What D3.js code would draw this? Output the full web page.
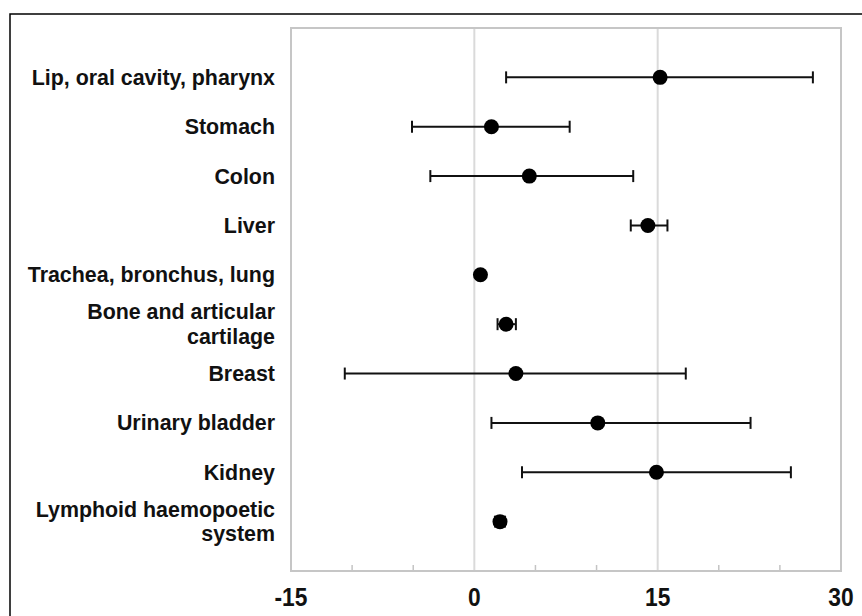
<!DOCTYPE html>
<html>
<head>
<meta charset="utf-8">
<script src="https://cdn.jsdelivr.net/npm/d3@7"></script>
<style>
  body { margin: 0; background: #fff; }
  svg { display: block; font-family: "Liberation Sans", Arial, sans-serif; }
</style>
</head>
<body>
<svg id="chart" width="862" height="616"></svg>
<script>
// categories (multi-line labels split with "|")
const categories = [
    'Lip, oral cavity, pharynx',
    'Stomach',
    'Colon',
    'Liver',
    'Trachea, bronchus, lung',
    'Bone and articular|cartilage',
    'Breast',
    'Urinary bladder',
    'Kidney',
    'Lymphoid haemopoetic|system'
];
const estimates = [15.2, 1.4, 4.5, 14.2, 0.5, 2.6, 3.4, 10.1, 14.9, 2.1];
const lowerCI   = [2.6, -5.1, -3.6, 12.8, 0.4, 1.9, -10.6, 1.4, 3.9, 1.7];
const upperCI   = [27.7, 7.8, 13.0, 15.8, 0.6, 3.4, 17.3, 22.6, 25.9, 2.5];
const xTicks = [-15, 0, 15, 30];
const minorTicks = [-10, -5, 5, 10, 20, 25];
const gridValues = [0, 15];

const rows = categories.map((c, i) => ({
    label: c, est: estimates[i], lo: lowerCI[i], hi: upperCI[i]
}));

const svg = d3.select('#chart');
const plot = { left: 291, right: 841, top: 28, bottom: 571 };

const x = d3.scaleLinear().domain([-15, 30]).range([plot.left, plot.right]);
const y = d3.scalePoint().domain(categories).range([plot.top, plot.bottom]).padding(1);

// outer frame (cropped on right and bottom)
svg.append('path')
    .attr('d', `M10,${616 + 5}V14H${862 + 5}`)
    .attr('fill', 'none')
    .attr('stroke', '#000')
    .attr('stroke-width', 1.5);

// grid lines
svg.append('g')
    .selectAll('line')
    .data(gridValues)
    .enter()
    .append('line')
    .attr('x1', d => x(d)).attr('x2', d => x(d))
    .attr('y1', plot.top).attr('y2', plot.bottom)
    .attr('stroke', '#dadada')
    .attr('stroke-width', 2);

// minor ticks on the bottom axis
svg.append('g')
    .selectAll('line')
    .data(minorTicks)
    .enter()
    .append('line')
    .attr('x1', d => x(d)).attr('x2', d => x(d))
    .attr('y1', plot.bottom - 6).attr('y2', plot.bottom)
    .attr('stroke', '#c4c4c4')
    .attr('stroke-width', 1.5);

// plot frame
svg.append('rect')
    .attr('x', plot.left)
    .attr('y', plot.top)
    .attr('width', plot.right - plot.left)
    .attr('height', plot.bottom - plot.top)
    .attr('fill', 'none')
    .attr('stroke', '#c6c6c6')
    .attr('stroke-width', 2);

// x tick labels
svg.append('g')
    .selectAll('text')
    .data(xTicks)
    .enter()
    .append('text')
    .attr('transform', d => `translate(${x(d)},606) scale(0.95,1.08)`)
    .attr('text-anchor', 'middle')
    .attr('font-size', '24px')
    .attr('font-weight', 'bold')
    .attr('fill', '#111')
    .text(d => d);

// category labels
const labels = svg.append('g')
    .selectAll('text')
    .data(rows)
    .enter()
    .append('text')
    .attr('text-anchor', 'end')
    .attr('font-size', '21.4px')
    .attr('font-weight', 'bold')
    .attr('fill', '#111');

labels.each(function(d) {
    const lines = d.label.split('|');
    const lineH = 24.5;
    const cy = y(d.label);
    const t = d3.select(this);
    lines.forEach((ln, i) => {
        t.append('tspan')
            .attr('x', 275)
            .attr('y', cy + (i - (lines.length - 1) / 2) * lineH + 7.5)
            .text(ln);
    });
});

// error bars
const bars = svg.append('g')
    .selectAll('g')
    .data(rows)
    .enter()
    .append('g')
    .attr('transform', d => `translate(0,${y(d.label)})`);

bars.append('line')
    .attr('x1', d => x(d.lo)).attr('x2', d => x(d.hi))
    .attr('y1', 0).attr('y2', 0)
    .attr('stroke', '#111')
    .attr('stroke-width', 2);

bars.selectAll('.cap')
    .data(d => [d.lo, d.hi])
    .enter()
    .append('line')
    .attr('class', 'cap')
    .attr('x1', v => x(v)).attr('x2', v => x(v))
    .attr('y1', -6).attr('y2', 6)
    .attr('stroke', '#111')
    .attr('stroke-width', 2);

bars.append('circle')
    .attr('cx', d => x(d.est))
    .attr('cy', 0)
    .attr('r', 7.5)
    .attr('fill', '#000');
</script>
</body>
</html>
